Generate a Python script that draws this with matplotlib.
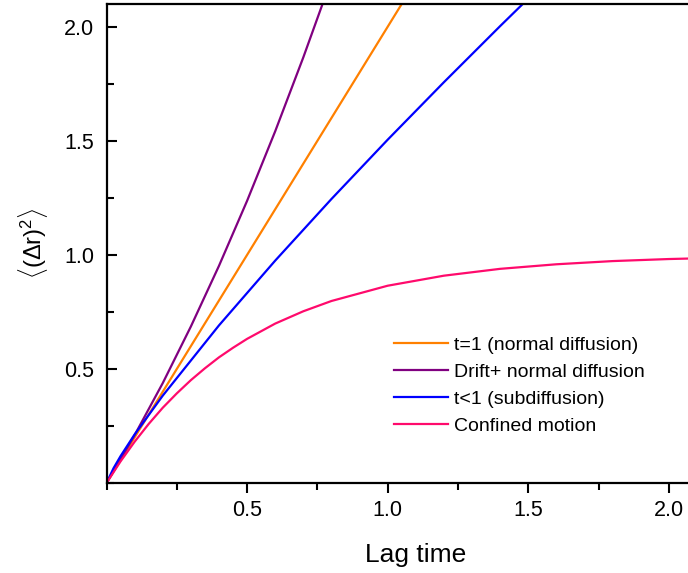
import matplotlib
matplotlib.use("Agg")
import matplotlib.pyplot as plt
from matplotlib.ticker import MultipleLocator

plt.rcParams["font.family"] = ["Liberation Sans", "DejaVu Sans"]
plt.rcParams["mathtext.fontset"] = "custom"
plt.rcParams["mathtext.rm"] = "Liberation Sans"
plt.rcParams["mathtext.it"] = "Liberation Sans"

# values
t_normal = [0.0, 1.1]
msd_normal = [0.0, 2.2]

t_drift = [0.0, 0.1, 0.2, 0.3, 0.4, 0.5, 0.6, 0.7, 0.8]
msd_drift = [0.0, 0.21, 0.438, 0.686, 0.952, 1.237, 1.542, 1.866, 2.208]

t_sub = [0.0, 0.025, 0.05, 0.1, 0.2, 0.4, 0.6, 0.8, 1.0, 1.2, 1.4, 1.6]
msd_sub = [0.0, 0.065, 0.118, 0.213, 0.383, 0.691, 0.975, 1.245, 1.505, 1.757, 2.003, 2.244]

t_conf = [0.0, 0.05, 0.1, 0.15, 0.2, 0.25, 0.3, 0.35, 0.4, 0.45, 0.5, 0.6, 0.7,
          0.8, 1.0, 1.2, 1.4, 1.6, 1.8, 2.0, 2.2]
msd_conf = [0.0, 0.095, 0.181, 0.259, 0.330, 0.393, 0.451, 0.503, 0.551, 0.593,
            0.632, 0.699, 0.753, 0.798, 0.865, 0.909, 0.939, 0.959, 0.973, 0.982, 0.988]

labels = ["t=1 (normal diffusion)", "Drift+ normal diffusion",
          "t<1 (subdiffusion)", "Confined motion"]
colors = ["#FF8000", "#800080", "#0000FF", "#FF0A6C"]

fig = plt.figure(figsize=(6.88, 5.73), dpi=100)
ax = fig.add_axes([0.1548, 0.157, 0.899, 0.836])

LW = 1.6
ax.plot(t_normal, msd_normal, color=colors[0], lw=LW, label=labels[0])
ax.plot(t_drift, msd_drift, color=colors[1], lw=LW, label=labels[1])
ax.plot(t_sub, msd_sub, color=colors[2], lw=LW, label=labels[2])
ax.plot(t_conf, msd_conf, color=colors[3], lw=LW, label=labels[3])

ax.set_xlim(0, 2.2)
ax.set_ylim(0, 2.1)
ax.xaxis.set_minor_locator(MultipleLocator(0.25))
ax.yaxis.set_minor_locator(MultipleLocator(0.25))
ax.set_xticks([0.5, 1.0, 1.5, 2.0])
ax.set_yticks([0.5, 1.0, 1.5, 2.0])

for s in ax.spines.values():
    s.set_linewidth(1.6)
ax.tick_params(axis="x", which="major", direction="out", length=7, width=1.5,
               labelsize=15.5, pad=5)
ax.tick_params(axis="x", which="minor", direction="out", length=5, width=1.5)
ax.tick_params(axis="y", which="major", direction="in", length=7, width=1.5,
               labelsize=15.5, pad=9)
ax.tick_params(axis="y", which="minor", direction="in", length=5, width=1.5)

ax.set_xlabel("Lag time", fontsize=19, labelpad=16)
ax.set_ylabel(r"$\langle(\Delta \mathrm{r})^2\rangle$", fontsize=17, labelpad=10)

ax.legend(loc="upper left", bbox_to_anchor=(0.452, 0.323), frameon=False,
          fontsize=14, handlelength=2.8, handletextpad=0.3,
          labelspacing=0.48, borderaxespad=0)

fig.savefig("out.png", dpi=100)
